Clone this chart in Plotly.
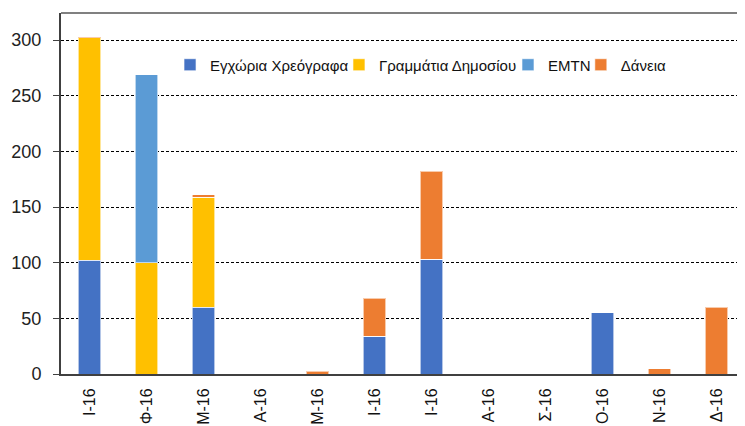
import plotly.graph_objects as go

months = ["Ι-16", "Φ-16", "Μ-16", "Α-16", "Μ-16", "Ι-16", "Ι-16", "Α-16", "Σ-16", "Ο-16", "Ν-16", "Δ-16"]
series_names = ["Εγχώρια Χρεόγραφα", "Γραμμάτια Δημοσίου", "EMTN", "Δάνεια"]
egxoria = [102, 0, 60, 0, 0, 34, 103, 0, 0, 55, 0, 0]
grammatia = [200, 100, 99, 0, 0, 0, 0, 0, 0, 0, 0, 0]
emtn = [0, 169, 0, 0, 0, 0, 0, 0, 0, 0, 0, 0]
daneia = [1, 0, 2, 0, 2.5, 34, 79, 0, 0, 0, 4.5, 60]
colors = ["#4472C4", "#FFC000", "#5B9BD5", "#ED7D31"]

legend_ids = ["legend", "legend2", "legend3", "legend4"]
legend_x = [0.1594, 0.4064, 0.6535, 0.7600]

x = list(range(len(months)))
fig = go.Figure()
for name, vals, c, lid in zip(series_names, [egxoria, grammatia, emtn, daneia], colors, legend_ids):
    fig.add_trace(go.Bar(x=x, y=vals, name=name, legend=lid,
                         marker=dict(color=c, line=dict(color="rgba(255,255,255,0.6)", width=1)),
                         width=0.39))

legend_common = dict(orientation="h", y=0.856, xanchor="left", yanchor="middle",
                     font=dict(size=15, color="#111111"), bgcolor="rgba(0,0,0,0)",
                     itemwidth=30, borderwidth=0)
layout_legends = {}
for lid, lx in zip(legend_ids, legend_x):
    layout_legends[lid] = dict(legend_common, x=lx)

fig.update_layout(
    width=737, height=418,
    margin=dict(l=53, r=0, t=5, b=52),
    barmode="stack",
    plot_bgcolor="white", paper_bgcolor="white",
    font=dict(family="Liberation Sans, Arial, sans-serif", color="#222222"),
    showlegend=True,
    xaxis=dict(tickmode="array", tickvals=x, ticktext=months, tickangle=-90,
               range=[-0.5, 11.5], showline=True, linecolor="#404040", linewidth=2,
               showgrid=False, ticks="", ticklabelstandoff=6,
               tickfont=dict(size=16, color="#111111"), zeroline=False),
    yaxis=dict(range=[0, 324.3], tickvals=[0, 50, 100, 150, 200, 250, 300],
               showline=True, linecolor="#404040", linewidth=2,
               ticks="outside", ticklen=6, tickcolor="#404040", ticklabelstandoff=8,
               showgrid=True, gridcolor="#000000", gridwidth=1, griddash="3px,2px",
               zeroline=False, tickfont=dict(size=18, color="#222222")),
    **layout_legends,
)
fig.add_shape(type="line", xref="paper", yref="paper", x0=0, x1=1, y0=1, y1=1,
              line=dict(color="#808080", width=2))
fig.write_html("out.html")
